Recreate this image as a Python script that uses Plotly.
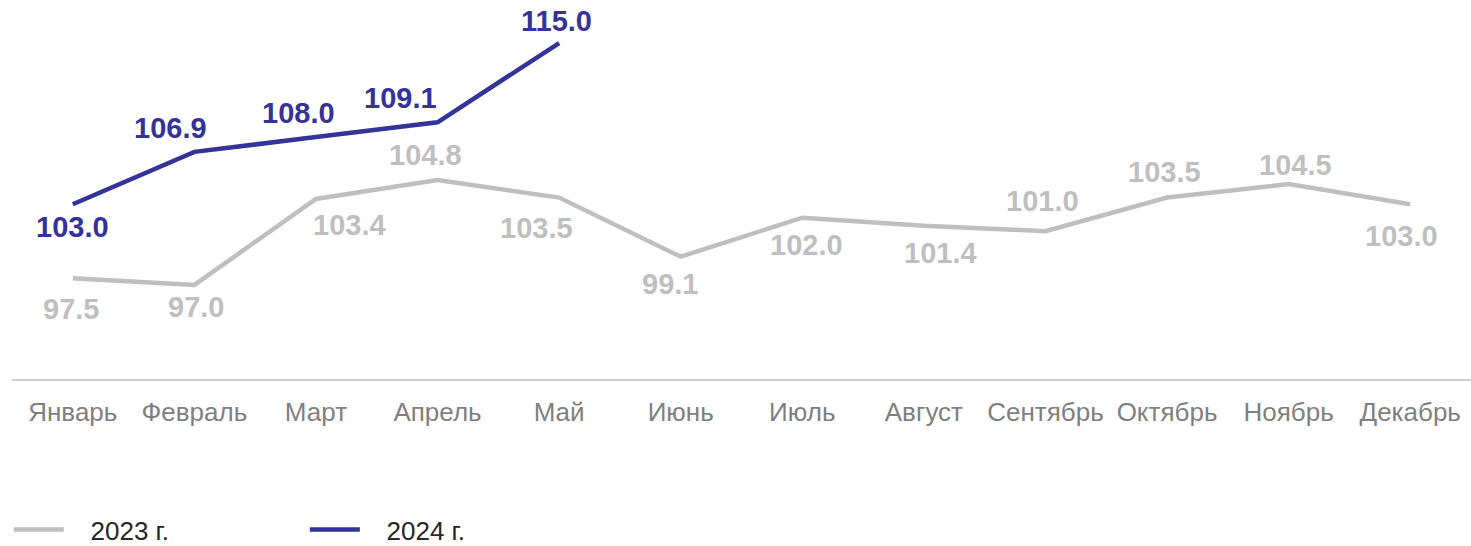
import plotly.graph_objects as go

months = ["Январь", "Февраль", "Март", "Апрель", "Май", "Июнь", "Июль",
          "Август", "Сентябрь", "Октябрь", "Ноябрь", "Декабрь"]
v2023 = [97.5, 97.0, 103.4, 104.8, 103.5, 99.1, 102.0, 101.4, 101.0, 103.5, 104.5, 103.0]
v2024 = [103.0, 106.9, 108.0, 109.1, 115.0]
names = ["2023 г.", "2024 г."]

# label placement offsets (px): (dx, dy) where positive dy is up
off2023 = [(-2, -31), (2, -22), (34, -26), (-12, 25), (-23, -30), (-11, -27),
           (4, -27), (17, -27), (-3, 30), (-3, 26), (7, 19), (-9, -32)]
off2024 = [(0, -23), (-24, 24), (-17, 24), (-37, 24), (-3, 22)]

GREY = "#BFBFBF"
BLUE = "#333399"
FONT = "Liberation Sans, Arial, sans-serif"
PAD = "\u00a0" * 3

fig = go.Figure()
fig.add_trace(go.Scatter(x=months, y=v2023, mode="lines", name=PAD + names[0],
                         line=dict(color=GREY, width=4.5)))
fig.add_trace(go.Scatter(x=months[:len(v2024)], y=v2024, mode="lines", name=PAD + names[1],
                         line=dict(color=BLUE, width=4.5)))

for m, v, (dx, dy) in zip(months, v2023, off2023):
    fig.add_annotation(x=m, y=v, text=f"{v:.1f}", showarrow=False,
                       xshift=dx, yshift=dy,
                       font=dict(family=FONT, size=29, color=GREY, weight="bold"))
for m, v, (dx, dy) in zip(months, v2024, off2024):
    fig.add_annotation(x=m, y=v, text=f"{v:.1f}", showarrow=False,
                       xshift=dx, yshift=dy,
                       font=dict(family=FONT, size=29, color=BLUE, weight="bold"))

fig.update_layout(
    width=1471, height=546,
    margin=dict(l=12, r=0, t=0, b=167),
    paper_bgcolor="white", plot_bgcolor="white",
    font=dict(family=FONT),
    showlegend=True,
    legend=dict(orientation="h", xref="container", yref="container",
                x=0.006, y=0.03, xanchor="left", yanchor="middle",
                entrywidth=231, font=dict(size=26, color="#262626"),
                itemwidth=50),
    xaxis=dict(type="category", range=[-0.5, 11.5], showgrid=False,
               showline=True, linecolor="#D0D0D0", linewidth=2,
               ticks="", ticklabelstandoff=9, automargin=False,
               tickfont=dict(size=26, color="#7F7F7F"), fixedrange=True),
    yaxis=dict(range=[90, 118.2], visible=False, showgrid=False, fixedrange=True,
               automargin=False),
)

fig.write_html("out.html", config={"displayModeBar": False},
               post_script="document.body.style.margin='0';document.body.style.overflow='hidden';")
